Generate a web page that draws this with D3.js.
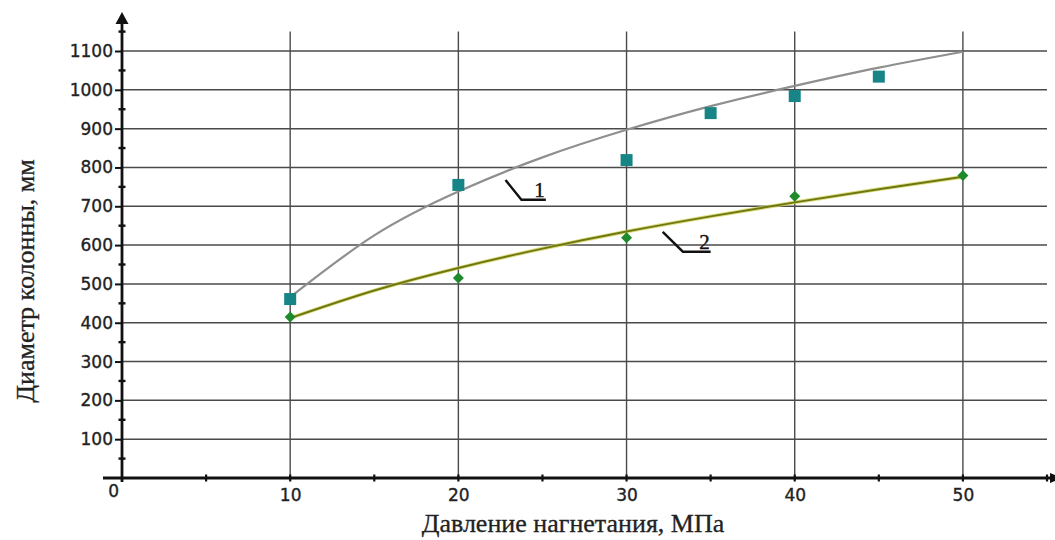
<!DOCTYPE html>
<html>
<head>
<meta charset="utf-8">
<script src="https://cdn.jsdelivr.net/npm/d3@7"></script>
<style>
  html, body { margin: 0; padding: 0; background: #fff; }
  svg { display: block; }
</style>
</head>
<body>
<svg id="chart" width="1055" height="540"></svg>
<script>
// Measured points: column diameter (mm) vs injection pressure (MPa)
const pressure1 = [10, 20, 30, 35, 40, 45];
const diameter1 = [461, 755, 819, 940, 984, 1034];
const pressure2 = [10, 20, 30, 40, 50];
const diameter2 = [415, 515, 619, 726, 779];

// Trend curves through the points
const trendPressure = [10, 15, 20, 25, 30, 35, 40, 45, 50];
const trend1 = [466, 625, 738, 826, 897, 958, 1010, 1057, 1098];
const trend2 = [412, 483, 541, 591, 635, 674, 710, 744, 776];

// Axis ticks
const xTickValues = [10, 20, 30, 40, 50];
const xMinorTicks = [5, 15, 25, 35, 45, 55];
const yTickValues = [100, 200, 300, 400, 500, 600, 700, 800, 900, 1000, 1100];
const yMinorTicks = [50, 150, 250, 350, 450, 550, 650, 750, 850, 950, 1050, 1150];

// Curve labels: leader start, corner, end, text
const curveLabels = [
  { text: "1", start: [22.8, 768], corner: [23.75, 717], end: [25.2, 717] },
  { text: "2", start: [32.15, 634], corner: [33.35, 583], end: [35.0, 583] }
];

const xTitle = "Давление нагнетания, МПа";
const yTitle = "Диаметр колонны, мм";

const svg = d3.select("#chart");

const x = d3.scaleLinear().domain([0, 55]).range([122, 1047]);
const y = d3.scaleLinear().domain([0, 1150]).range([478, 31.6]);

const tickFont = "DejaVu Sans, sans-serif";

// Grid
const grid = svg.append("g");
grid.selectAll("line.h").data(yTickValues).join("line")
  .attr("x1", x(0)).attr("x2", x(55))
  .attr("y1", d => y(d)).attr("y2", d => y(d))
  .attr("stroke", "#4a4a4a").attr("stroke-width", 1.5);
grid.selectAll("line.v").data(xTickValues).join("line")
  .attr("x1", d => x(d)).attr("x2", d => x(d))
  .attr("y1", y(1150)).attr("y2", y(0))
  .attr("stroke", "#4a4a4a").attr("stroke-width", 1.4);

// Axes drawn with d3 axis generators, then restyled
const yAxis = svg.append("g")
  .attr("transform", `translate(${x(0)},0)`)
  .call(d3.axisLeft(y).tickValues(yTickValues).tickSize(7).tickPadding(2).tickFormat(d3.format("d")));
yAxis.select(".domain").remove();
yAxis.selectAll(".tick line").attr("stroke", "#111").attr("stroke-width", 2);
yAxis.selectAll("text")
  .attr("font-family", tickFont).attr("font-size", 17)
  .attr("fill", "#222").attr("stroke", "#222").attr("stroke-width", 0.35);

const xAxis = svg.append("g")
  .attr("transform", `translate(0,${y(0)})`)
  .call(d3.axisBottom(x).tickValues(xTickValues).tickSize(0).tickPadding(11));
xAxis.select(".domain").remove();
xAxis.selectAll("text")
  .attr("font-family", tickFont).attr("font-size", 17)
  .attr("fill", "#222").attr("stroke", "#222").attr("stroke-width", 0.35);

// Origin label
svg.append("text")
  .attr("x", x(0) - 3).attr("y", y(0) + 19)
  .attr("text-anchor", "end")
  .attr("font-family", tickFont).attr("font-size", 17)
  .attr("fill", "#222").attr("stroke", "#222").attr("stroke-width", 0.35).text("0");

// Axis lines
svg.append("line")
  .attr("x1", 103).attr("x2", 1055).attr("y1", y(0)).attr("y2", y(0))
  .attr("stroke", "#111").attr("stroke-width", 2.8);
svg.append("line")
  .attr("x1", x(0)).attr("x2", x(0)).attr("y1", y(0) + 4).attr("y2", 20)
  .attr("stroke", "#111").attr("stroke-width", 2.8);
// Arrowheads
svg.append("path")
  .attr("d", `M${x(0)},12 L${x(0) - 6.5},24 L${x(0) + 6.5},24 Z`)
  .attr("fill", "#111");
svg.append("path")
  .attr("d", `M1062,${y(0)} L1050,${y(0) - 5} L1050,${y(0) + 5} Z`)
  .attr("fill", "#111");

// Minor ticks
svg.selectAll("line.ymin").data(yMinorTicks).join("line")
  .attr("x1", x(0) - 3.5).attr("x2", x(0) + 3.5)
  .attr("y1", d => y(d)).attr("y2", d => y(d))
  .attr("stroke", "#111").attr("stroke-width", 2.4);
svg.selectAll("line.xmin").data(xMinorTicks.concat(xTickValues)).join("line")
  .attr("x1", d => x(d)).attr("x2", d => x(d))
  .attr("y1", y(0) - 3.5).attr("y2", y(0) + 3.5)
  .attr("stroke", "#111").attr("stroke-width", 2.2);

// Trend curves
const line = (vals) => d3.line()
  .x((d, i) => x(trendPressure[i]))
  .y(d => y(d))
  .curve(d3.curveNatural)(vals);

svg.append("path").attr("d", line(trend1))
  .attr("fill", "none").attr("stroke", "#8f8f8f").attr("stroke-width", 2.2);
svg.append("path").attr("d", line(trend2))
  .attr("fill", "none").attr("stroke", "#d2d256").attr("stroke-width", 3.8).attr("opacity", 0.75);
svg.append("path").attr("d", line(trend2))
  .attr("fill", "none").attr("stroke", "#6e7812").attr("stroke-width", 1.9);

// Series 1 markers: squares
const sq = 12;
svg.selectAll("rect.s1").data(pressure1).join("rect")
  .attr("x", d => x(d) - sq / 2)
  .attr("y", (d, i) => y(diameter1[i]) - sq / 2)
  .attr("width", sq).attr("height", sq)
  .attr("fill", "#178585");

// Series 2 markers: diamonds
const dm = 5.5;
svg.selectAll("path.s2").data(pressure2).join("path")
  .attr("d", (d, i) => {
    const cx = x(d), cy = y(diameter2[i]);
    return `M${cx},${cy - dm} L${cx + dm},${cy} L${cx},${cy + dm} L${cx - dm},${cy} Z`;
  })
  .attr("fill", "#1f8a2c");

// Curve labels with leaders
curveLabels.forEach(l => {
  svg.append("path")
    .attr("d", `M${x(l.start[0])},${y(l.start[1])} L${x(l.corner[0])},${y(l.corner[1])} L${x(l.end[0])},${y(l.end[1])}`)
    .attr("fill", "none").attr("stroke", "#111").attr("stroke-width", 2.4);
  svg.append("text")
    .attr("x", x(l.end[0]) - 1).attr("y", y(l.end[1]) - 3)
    .attr("text-anchor", "end")
    .attr("font-family", "Liberation Serif, serif").attr("font-size", 21)
    .attr("fill", "#111").attr("stroke", "#111").attr("stroke-width", 0.4).text(l.text);
});

// Axis titles
svg.append("text")
  .attr("x", 573).attr("y", 532)
  .attr("text-anchor", "middle")
  .attr("font-family", "Liberation Serif, serif").attr("font-size", 26)
  .attr("fill", "#222").attr("stroke", "#222").attr("stroke-width", 0.3).text(xTitle);
svg.append("text")
  .attr("transform", `translate(34,281) rotate(-90)`)
  .attr("text-anchor", "middle")
  .attr("font-family", "Liberation Serif, serif").attr("font-size", 26)
  .attr("fill", "#222").attr("stroke", "#222").attr("stroke-width", 0.3).text(yTitle);
</script>
</body>
</html>
